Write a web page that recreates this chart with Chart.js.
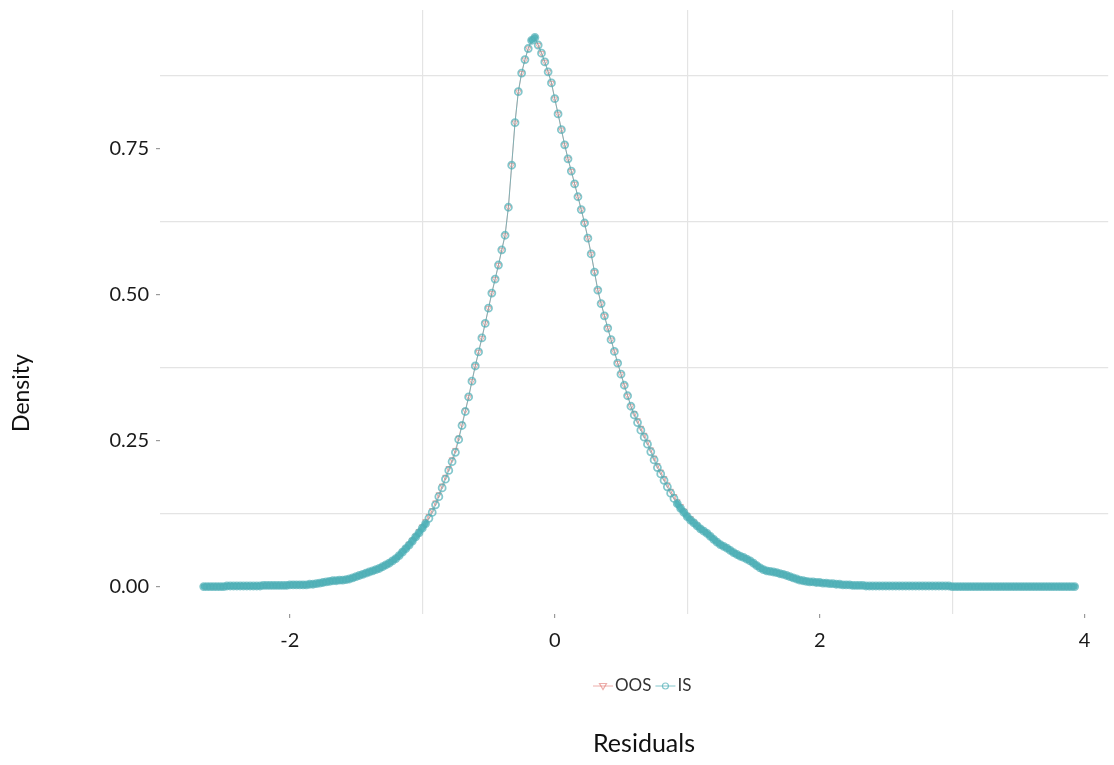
<!DOCTYPE html>
<html>
<head>
<meta charset="utf-8">
<title>Residual density</title>
<script src="https://cdn.jsdelivr.net/npm/chart.js@4.4.1/dist/chart.umd.min.js"></script>
<style>
  html, body { margin: 0; padding: 0; background: #fff; }
  #wrap { width: 1114px; height: 765px; }
</style>
</head>
<body>
<div id="wrap"><canvas id="chart" width="1114" height="765"></canvas></div>
<script>
// Residual values (x) shared by both density curves
const residuals = [
  -2.65, -2.625, -2.6, -2.575, -2.55, -2.525, -2.5, -2.475, -2.45, -2.425,
  -2.4, -2.375, -2.35, -2.325, -2.3, -2.275, -2.25, -2.225, -2.2, -2.175,
  -2.15, -2.125, -2.1, -2.075, -2.05, -2.025, -2, -1.975, -1.95, -1.925,
  -1.9, -1.875, -1.85, -1.825, -1.8, -1.775, -1.75, -1.725, -1.7, -1.675,
  -1.65, -1.625, -1.6, -1.575, -1.55, -1.525, -1.5, -1.475, -1.45, -1.425,
  -1.4, -1.375, -1.35, -1.325, -1.3, -1.275, -1.25, -1.225, -1.2, -1.175,
  -1.15, -1.125, -1.1, -1.075, -1.05, -1.025, -1, -0.975, -0.95, -0.925,
  -0.9, -0.875, -0.85, -0.825, -0.8, -0.775, -0.75, -0.725, -0.7, -0.675,
  -0.65, -0.625, -0.6, -0.575, -0.55, -0.525, -0.5, -0.475, -0.45, -0.425,
  -0.4, -0.375, -0.35, -0.325, -0.3, -0.275, -0.25, -0.225, -0.2, -0.175,
  -0.15, -0.125, -0.1, -0.075, -0.05, -0.025, 0, 0.025, 0.05, 0.075,
  0.1, 0.125, 0.15, 0.175, 0.2, 0.225, 0.25, 0.275, 0.3, 0.325,
  0.35, 0.375, 0.4, 0.425, 0.45, 0.475, 0.5, 0.525, 0.55, 0.575,
  0.6, 0.625, 0.65, 0.675, 0.7, 0.725, 0.75, 0.775, 0.8, 0.825,
  0.85, 0.875, 0.9, 0.925, 0.95, 0.975, 1, 1.025, 1.05, 1.075,
  1.1, 1.125, 1.15, 1.175, 1.2, 1.225, 1.25, 1.275, 1.3, 1.325,
  1.35, 1.375, 1.4, 1.425, 1.45, 1.475, 1.5, 1.525, 1.55, 1.575,
  1.6, 1.625, 1.65, 1.675, 1.7, 1.725, 1.75, 1.775, 1.8, 1.825,
  1.85, 1.875, 1.9, 1.925, 1.95, 1.975, 2, 2.025, 2.05, 2.075,
  2.1, 2.125, 2.15, 2.175, 2.2, 2.225, 2.25, 2.275, 2.3, 2.325,
  2.35, 2.375, 2.4, 2.425, 2.45, 2.475, 2.5, 2.525, 2.55, 2.575,
  2.6, 2.625, 2.65, 2.675, 2.7, 2.725, 2.75, 2.775, 2.8, 2.825,
  2.85, 2.875, 2.9, 2.925, 2.95, 2.975, 3, 3.025, 3.05, 3.075,
  3.1, 3.125, 3.15, 3.175, 3.2, 3.225, 3.25, 3.275, 3.3, 3.325,
  3.35, 3.375, 3.4, 3.425, 3.45, 3.475, 3.5, 3.525, 3.55, 3.575,
  3.6, 3.625, 3.65, 3.675, 3.7, 3.725, 3.75, 3.775, 3.8, 3.825,
  3.85, 3.875, 3.9, 3.925
];

// In-sample density
const isDensity = [
  0, 0, 0, 0, 0, 0, 0, 0.001, 0.001, 0.001,
  0.001, 0.001, 0.001, 0.001, 0.001, 0.001, 0.001, 0.001, 0.002, 0.002,
  0.002, 0.002, 0.002, 0.002, 0.002, 0.002, 0.003, 0.003, 0.003, 0.003,
  0.003, 0.003, 0.004, 0.004, 0.005, 0.006, 0.007, 0.008, 0.009, 0.010,
  0.010, 0.011, 0.011, 0.012, 0.013, 0.015, 0.017, 0.019, 0.021, 0.023,
  0.025, 0.027, 0.029, 0.031, 0.034, 0.037, 0.040, 0.044, 0.048, 0.053,
  0.059, 0.065, 0.071, 0.078, 0.085, 0.092, 0.100, 0.108, 0.117, 0.127,
  0.140, 0.154, 0.169, 0.184, 0.199, 0.214, 0.230, 0.252, 0.276, 0.300,
  0.325, 0.352, 0.378, 0.402, 0.426, 0.451, 0.477, 0.503, 0.527, 0.551,
  0.577, 0.602, 0.650, 0.722, 0.795, 0.848, 0.880, 0.903, 0.922, 0.936,
  0.941, 0.928, 0.914, 0.899, 0.882, 0.863, 0.836, 0.810, 0.783, 0.757,
  0.733, 0.712, 0.690, 0.668, 0.646, 0.623, 0.597, 0.570, 0.539, 0.508,
  0.485, 0.464, 0.443, 0.423, 0.403, 0.383, 0.364, 0.345, 0.327, 0.309,
  0.294, 0.281, 0.268, 0.256, 0.244, 0.231, 0.217, 0.204, 0.193, 0.182,
  0.171, 0.160, 0.151, 0.142, 0.134, 0.127, 0.120, 0.114, 0.109, 0.104,
  0.099, 0.095, 0.091, 0.086, 0.081, 0.076, 0.072, 0.069, 0.066, 0.062,
  0.058, 0.055, 0.052, 0.050, 0.047, 0.044, 0.040, 0.036, 0.032, 0.029,
  0.027, 0.026, 0.025, 0.024, 0.022, 0.021, 0.019, 0.017, 0.015, 0.013,
  0.011, 0.010, 0.009, 0.008, 0.008, 0.007, 0.007, 0.006, 0.006, 0.005,
  0.005, 0.004, 0.004, 0.003, 0.003, 0.003, 0.002, 0.002, 0.002, 0.002,
  0.001, 0.001, 0.001, 0.001, 0.001, 0.001, 0.001, 0.001, 0.001, 0.001,
  0.001, 0.001, 0.001, 0.001, 0.001, 0.001, 0.001, 0.001, 0.001, 0.001,
  0.001, 0.001, 0.001, 0.001, 0.001, 0.001, 0, 0, 0, 0,
  0, 0, 0, 0, 0, 0, 0, 0, 0, 0,
  0, 0, 0, 0, 0, 0, 0, 0, 0, 0,
  0, 0, 0, 0, 0, 0, 0, 0, 0, 0,
  0, 0, 0, 0
];

// Out-of-sample density (almost the same curve)
const oosDensity = [
  0, 0, 0, 0, 0, 0, 0, 0.001, 0.001, 0.001,
  0.001, 0.001, 0.001, 0.001, 0.001, 0.001, 0.001, 0.001, 0.002, 0.002,
  0.002, 0.002, 0.002, 0.002, 0.002, 0.002, 0.003, 0.003, 0.003, 0.003,
  0.003, 0.003, 0.004, 0.004, 0.005, 0.006, 0.007, 0.008, 0.009, 0.010,
  0.010, 0.011, 0.011, 0.012, 0.013, 0.015, 0.017, 0.019, 0.021, 0.023,
  0.025, 0.027, 0.029, 0.031, 0.034, 0.037, 0.040, 0.044, 0.048, 0.053,
  0.060, 0.066, 0.073, 0.080, 0.087, 0.095, 0.103, 0.112, 0.121, 0.131,
  0.144, 0.158, 0.173, 0.188, 0.203, 0.218, 0.234, 0.255, 0.278, 0.302,
  0.325, 0.352, 0.378, 0.402, 0.426, 0.451, 0.477, 0.503, 0.527, 0.551,
  0.577, 0.602, 0.650, 0.722, 0.795, 0.848, 0.880, 0.903, 0.922, 0.936,
  0.941, 0.928, 0.914, 0.899, 0.882, 0.863, 0.836, 0.810, 0.783, 0.757,
  0.733, 0.712, 0.690, 0.668, 0.646, 0.623, 0.597, 0.570, 0.539, 0.508,
  0.485, 0.464, 0.443, 0.423, 0.403, 0.383, 0.364, 0.345, 0.327, 0.309,
  0.297, 0.285, 0.272, 0.260, 0.248, 0.235, 0.221, 0.208, 0.197, 0.186,
  0.175, 0.164, 0.155, 0.146, 0.138, 0.130, 0.123, 0.117, 0.111, 0.106,
  0.099, 0.095, 0.091, 0.086, 0.081, 0.076, 0.072, 0.069, 0.066, 0.062,
  0.058, 0.055, 0.052, 0.050, 0.047, 0.044, 0.040, 0.036, 0.032, 0.029,
  0.027, 0.026, 0.025, 0.024, 0.022, 0.021, 0.019, 0.017, 0.015, 0.013,
  0.011, 0.010, 0.009, 0.008, 0.008, 0.007, 0.007, 0.006, 0.006, 0.005,
  0.005, 0.004, 0.004, 0.003, 0.003, 0.003, 0.002, 0.002, 0.002, 0.002,
  0.001, 0.001, 0.001, 0.001, 0.001, 0.001, 0.001, 0.001, 0.001, 0.001,
  0.001, 0.001, 0.001, 0.001, 0.001, 0.001, 0.001, 0.001, 0.001, 0.001,
  0.001, 0.001, 0.001, 0.001, 0.001, 0.001, 0, 0, 0, 0,
  0, 0, 0, 0, 0, 0, 0, 0, 0, 0,
  0, 0, 0, 0, 0, 0, 0, 0, 0, 0,
  0, 0, 0, 0, 0, 0, 0, 0, 0, 0,
  0, 0, 0, 0
];

// Axis ticks: labelled ticks and the (minor) grid lines
const xTickValues = [-2, 0, 2, 4];
const xTickLabels = ['-2', '0', '2', '4'];
const xGridValues = [-1, 1, 3];
const yTickValues = [0, 0.25, 0.5, 0.75];
const yTickLabels = ['0.00', '0.25', '0.50', '0.75'];
const yGridValues = [0.125, 0.375, 0.625, 0.875];

const FONT = 'Lato';
const GRID = '#e4e4e4';
const TICK = '#9a9a9a';
const NONE = 'rgba(0,0,0,0)';
const OOS_COLOR = 'rgba(225,120,115,0.6)';
const IS_COLOR = 'rgba(80,175,182,0.7)';
const IS_THICK = 'rgba(78,180,186,0.95)';

function toPoints(ys) {
    return residuals.map((x, i) => ({ x: x, y: ys[i] }));
}

function setTicks(values, extra) {
    return scale => {
        scale.ticks = values.concat(extra).sort((a, b) => a - b).map(v => ({ value: v }));
    };
}

// where the points crowd together the markers merge into one thick band
function crowded(seg) {
    return Math.hypot(seg.p1.x - seg.p0.x, seg.p1.y - seg.p0.y) < 6;
}

// axis titles and legend are drawn by hand so they sit where the original has them
const annotations = {
    id: 'annotations',
    afterDraw(chart) {
        const c = chart.ctx;
        c.save();
        c.fillStyle = '#111';
        c.textAlign = 'center';
        c.textBaseline = 'middle';
        c.font = '25px ' + FONT;
        c.fillText('Residuals', 644, 744);
        c.font = '23px ' + FONT;
        c.translate(22, 393);
        c.rotate(-Math.PI / 2);
        c.fillText('Density', 0, 0);
        c.restore();

        // legend row
        c.save();
        c.font = '17px ' + FONT;
        c.textBaseline = 'middle';
        c.textAlign = 'left';
        const y = 686;
        let x = 593;
        chart.data.datasets.forEach(ds => {
            c.strokeStyle = ds.borderColor;
            c.lineWidth = 1;
            c.beginPath();
            c.moveTo(x, y);
            c.lineTo(x + 20, y);
            c.stroke();
            const mx = x + 10;
            c.strokeStyle = ds.pointBorderColor;
            c.lineWidth = 1.2;
            c.beginPath();
            if (ds.pointStyle === 'triangle') {
                c.moveTo(mx - 3.5, y - 2.5);
                c.lineTo(mx + 3.5, y - 2.5);
                c.lineTo(mx, y + 3.5);
                c.closePath();
            } else {
                c.arc(mx, y, 3, 0, Math.PI * 2);
            }
            c.stroke();
            x += 22;
            c.fillStyle = '#333';
            c.fillText(ds.label, x, y);
            x += c.measureText(ds.label).width + 4;
        });
        c.restore();
    }
};

const ctx = document.getElementById('chart');
new Chart(ctx, {
    type: 'line',
    data: {
        datasets: [
            {
                label: 'OOS',
                data: toPoints(oosDensity),
                order: 1,
                borderColor: OOS_COLOR,
                borderWidth: 1,
                tension: 0,
                pointStyle: 'triangle',
                pointRotation: 180,
                pointRadius: 3.2,
                pointBorderWidth: 1,
                pointBorderColor: OOS_COLOR,
                pointBackgroundColor: NONE
            },
            {
                label: 'IS',
                data: toPoints(isDensity),
                order: 0,
                borderColor: IS_COLOR,
                borderWidth: 1,
                borderCapStyle: 'round',
                borderJoinStyle: 'round',
                tension: 0,
                segment: {
                    borderWidth: s => crowded(s) ? 6 : 1,
                    borderColor: s => crowded(s) ? IS_THICK : IS_COLOR
                },
                pointStyle: 'circle',
                pointRadius: 3.5,
                pointBorderWidth: 1.8,
                pointBorderColor: IS_COLOR,
                pointBackgroundColor: NONE
            }
        ]
    },
    options: {
        responsive: false,
        animation: false,
        layout: { padding: { top: 10, left: 0, right: 0, bottom: 0 } },
        plugins: {
            legend: { display: false },
            tooltip: { enabled: false }
        },
        scales: {
            x: {
                type: 'linear',
                min: -2.98,
                max: 4.178,
                afterBuildTicks: setTicks(xTickValues, xGridValues),
                afterFit: scale => {
                    scale.height = 151;
                    scale.paddingLeft = 0;
                    scale.paddingRight = 0;
                },
                border: { display: false },
                grid: {
                    color: c => xGridValues.includes(c.tick.value) ? GRID : NONE,
                    lineWidth: 1.2,
                    tickColor: c => xTickValues.includes(c.tick.value) ? TICK : NONE,
                    tickLength: 4,
                    drawTicks: true
                },
                ticks: {
                    autoSkip: false,
                    maxRotation: 0,
                    padding: 11,
                    color: '#1a1a1a',
                    font: { family: FONT, size: 20 },
                    callback: v => {
                        const i = xTickValues.indexOf(v);
                        return i >= 0 ? xTickLabels[i] : '';
                    }
                }
            },
            y: {
                min: -0.047,
                max: 0.988,
                afterBuildTicks: setTicks(yTickValues, yGridValues),
                afterFit: scale => {
                    scale.width = 160;
                    scale.paddingTop = 0;
                    scale.paddingBottom = 0;
                },
                border: { display: false },
                grid: {
                    color: c => yGridValues.includes(c.tick.value) ? GRID : NONE,
                    lineWidth: 1.2,
                    tickColor: c => yTickValues.includes(c.tick.value) ? TICK : NONE,
                    tickLength: 4,
                    drawTicks: true
                },
                ticks: {
                    autoSkip: false,
                    padding: 7,
                    color: '#1a1a1a',
                    font: { family: FONT, size: 20 },
                    callback: v => {
                        const i = yTickValues.indexOf(v);
                        return i >= 0 ? yTickLabels[i] : '';
                    }
                }
            }
        }
    },
    plugins: [annotations]
});
</script>
</body>
</html>
